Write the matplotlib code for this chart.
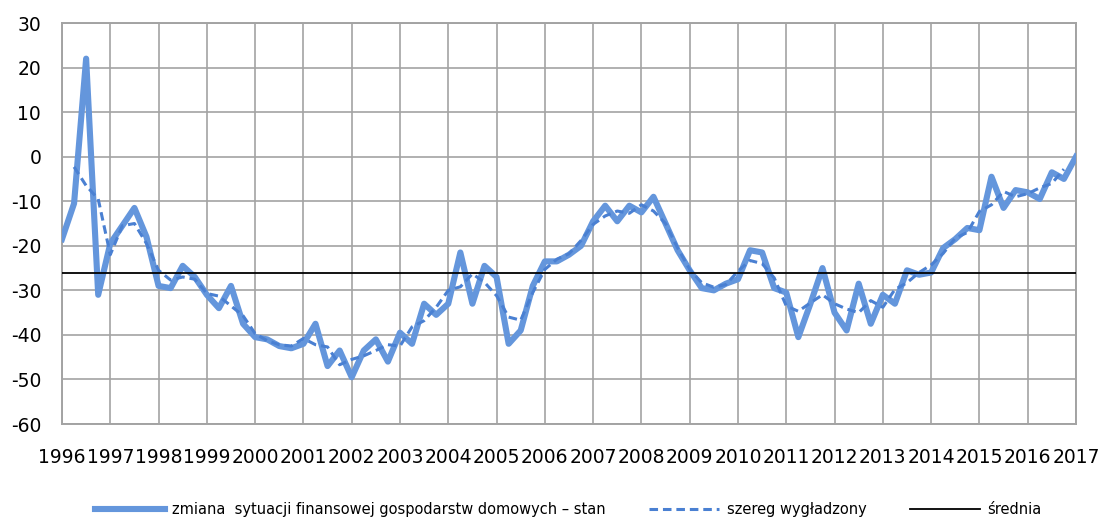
import matplotlib
matplotlib.use("Agg")
import matplotlib.pyplot as plt
import numpy as np

plt.rcParams["axes.unicode_minus"] = False

# kwartalne dane 1996Q1 - 2017Q1
stan = [
    -18.5, -10.5, 22, -31,
    -19.5, -15.5, -11.5, -18,
    -29, -29.5, -24.5, -27,
    -31, -34, -29, -37.5,
    -40.5, -41, -42.5, -43,
    -42, -37.5, -47, -43.5,
    -49.5, -43.5, -41, -46,
    -39.5, -42, -33, -35.5,
    -33, -21.5, -33, -24.5,
    -27, -42, -39, -29,
    -23.5, -23.5, -22, -20,
    -14.5, -11, -14.5, -11,
    -12.5, -9, -15, -21,
    -25.5, -29.5, -30, -28.5,
    -27.5, -21, -21.5, -29.5,
    -30.5, -40.5, -33, -25,
    -35, -39, -28.5, -37.5,
    -31, -33, -25.5, -26.5,
    -26, -20.5, -18.5, -16,
    -16.5, -4.5, -11.5, -7.5,
    -8, -9.5, -3.5, -5,
    0,
]

# szereg wygladzony 1996Q2 - 2016Q4
wygladzony = [
    -2.3, -6.5, -9.5,
    -22, -15.5, -15, -19.5,
    -25.5, -27.7, -27, -27.5,
    -30.7, -31.3, -33.5, -35.7,
    -39.7, -41.3, -42.2, -42.5,
    -40.8, -42.2, -42.7, -46.7,
    -45.5, -44.7, -43.5, -42.2,
    -42.5, -38.2, -36.8, -33.8,
    -30, -29.2, -26.3, -28.2,
    -31.2, -36, -36.7, -30.5,
    -25.3, -23, -21.8, -18.8,
    -15.2, -13.3, -12.2, -12.7,
    -10.8, -12.2, -15, -20.5,
    -25.3, -28.3, -29.3, -28.7,
    -25.7, -23.3, -24, -27.2,
    -33.5, -34.7, -32.8, -31,
    -33, -34.2, -35, -32.3,
    -33.8, -29.8, -28.3, -26,
    -24.3, -21.7, -18.3, -17,
    -12.3, -10.8, -7.8, -9,
    -8.3, -7, -6, -2.8,
]

srednia = -26

lata = list(range(1996, 2018))

x_stan = 1996 + np.arange(len(stan)) / 4
x_wyg = 1996.25 + np.arange(len(wygladzony)) / 4

fig = plt.figure(figsize=(11.03, 5.24), dpi=100)
ax = fig.add_axes([0.0562, 0.1908, 0.9193, 0.7653])

ax.plot(x_stan, stan, color="#6496DC", lw=4.4, solid_joinstyle="round",
        label="zmiana  sytuacji finansowej gospodarstw domowych – stan", zorder=3)
ax.plot(x_wyg, wygladzony, color="#4A80D2", lw=2.2, dashes=(2.8, 1.6),
        label="szereg wygładzony", zorder=4)
ax.axhline(srednia, color="black", lw=1.3, label="średnia", zorder=5)

ax.set_xlim(1996, 2017)
ax.set_ylim(-60, 30)
ax.set_xticks(lata)
ax.set_xticklabels([str(r) for r in lata])
ax.set_yticks(range(-60, 31, 10))

ax.grid(True, color="#A3A3A3", lw=1.2)
ax.set_axisbelow(True)
for s in ax.spines.values():
    s.set_color("#A3A3A3")
    s.set_linewidth(1.4)

ax.tick_params(axis="both", length=0, labelsize=13.5)
ax.tick_params(axis="y", pad=15)
ax.tick_params(axis="x", pad=17)

fig.legend(loc="lower center", bbox_to_anchor=(0.515, -0.012), ncol=3, frameon=False,
           fontsize=10.5, handlelength=4.8, handletextpad=0.5, columnspacing=3.0)

fig.savefig("out.png", dpi=100)
